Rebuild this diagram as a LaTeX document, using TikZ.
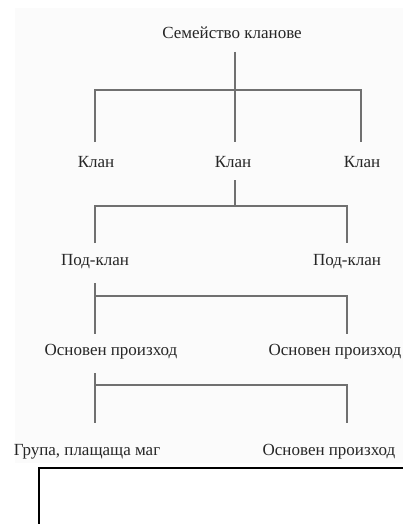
\documentclass[tikz,border=0pt]{standalone}
\usepackage{fontspec}
\setmainfont{Liberation Serif}
\definecolor{linegray}{HTML}{707070}
\definecolor{bgdots}{HTML}{FBFBFB}
\tikzset{
  lbl/.style={inner sep=0pt, font=\fontsize{17}{20}\selectfont, text=black!85},
  conn/.style={draw=linegray, line width=1.4pt},
  frame/.style={draw=black, line width=2.2pt}
}
\begin{document}
\begin{tikzpicture}[x=1pt,y=-1pt]
\useasboundingbox (0,0) rectangle (403,524);
\fill[bgdots] (15,8) rectangle (403,463);
% labels
\node[lbl] (title) at (232,33) {Семейство кланове};
\node[lbl] (k1) at (96,162) {Клан};
\node[lbl] (k2) at (233,162) {Клан};
\node[lbl] (k3) at (362,162) {Клан};
\node[lbl] (p1) at (95,262) {Под-клан};
\node[lbl] (p2) at (347,262) {Под-клан};
\node[lbl] (o1) at (111,352) {Основен произход};
\node[lbl] (o2) at (335,352) {Основен произход};
\node[lbl] (g1) at (87,452) {Група, плащаща маг};
\node[lbl] (o3) at (329,452) {Основен произход};
% coordinates level 1
\coordinate (a0) at (235,52);
\coordinate (a1) at (235,90);
\coordinate (aL) at (95,90);
\coordinate (aR) at (361,90);
\coordinate (a1b) at (235,142);
\coordinate (aLb) at (95,142);
\coordinate (aRb) at (361,142);
\draw[conn] (a0) -- (a1b);
\draw[conn] (aLb) -- (aL) -- (aR) -- (aRb);
% level 2
\coordinate (b0) at (235,180);
\coordinate (b1) at (235,206);
\coordinate (bL) at (95,206);
\coordinate (bR) at (347,206);
\coordinate (bLb) at (95,243);
\coordinate (bRb) at (347,243);
\draw[conn] (b0) -- (b1);
\draw[conn] (bLb) -- (bL) -- (bR) -- (bRb);
% level 3
\coordinate (c0) at (95,283);
\coordinate (cL) at (95,296);
\coordinate (cR) at (347,296);
\coordinate (cLb) at (95,334);
\coordinate (cRb) at (347,334);
\draw[conn] (c0) -- (cLb);
\draw[conn] (cL) -- (cR) -- (cRb);
% level 4
\coordinate (d0) at (95,373);
\coordinate (dL) at (95,385);
\coordinate (dR) at (347,385);
\coordinate (dLb) at (95,423);
\coordinate (dRb) at (347,423);
\draw[conn] (d0) -- (dLb);
\draw[conn] (dL) -- (dR) -- (dRb);
% bottom frame
\coordinate (f0) at (39,530);
\coordinate (f1) at (39,468);
\coordinate (f2) at (410,468);
\draw[frame] (f0) -- (f1) -- (f2);
\end{tikzpicture}
\end{document}
